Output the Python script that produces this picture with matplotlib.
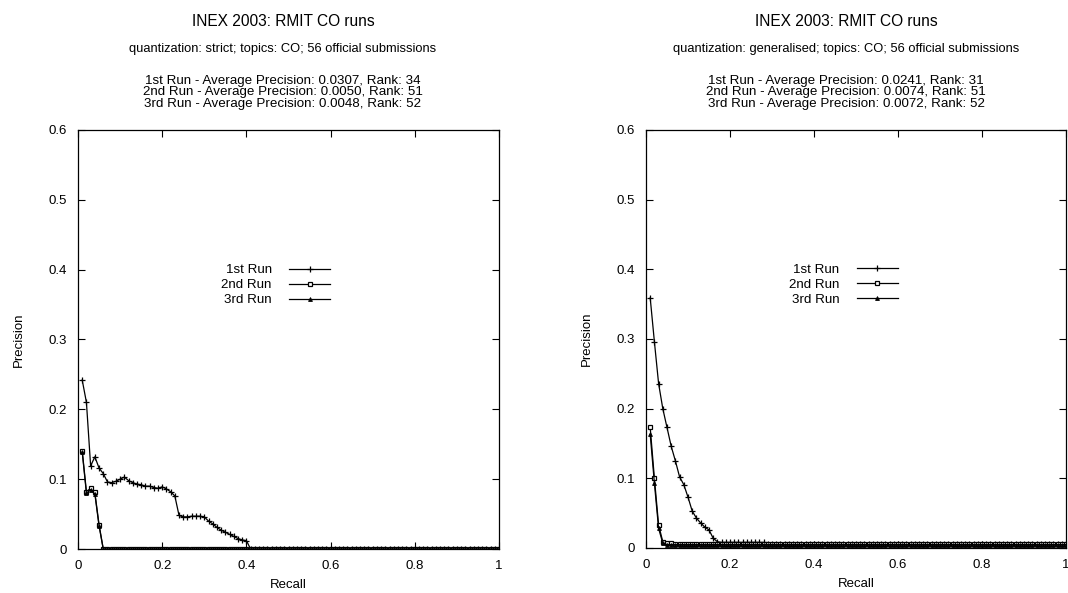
import matplotlib
matplotlib.use("Agg")
import matplotlib.pyplot as plt
from matplotlib.ticker import FormatStrFormatter, MultipleLocator

plt.rcParams['font.family'] = ['Liberation Sans', 'DejaVu Sans']

recall = [
    0.01, 0.02, 0.03, 0.04, 0.05, 0.06, 0.07, 0.08, 0.09, 0.10,
    0.11, 0.12, 0.13, 0.14, 0.15, 0.16, 0.17, 0.18, 0.19, 0.20,
    0.21, 0.22, 0.23, 0.24, 0.25, 0.26, 0.27, 0.28, 0.29, 0.30,
    0.31, 0.32, 0.33, 0.34, 0.35, 0.36, 0.37, 0.38, 0.39, 0.40,
    0.41, 0.42, 0.43, 0.44, 0.45, 0.46, 0.47, 0.48, 0.49, 0.50,
    0.51, 0.52, 0.53, 0.54, 0.55, 0.56, 0.57, 0.58, 0.59, 0.60,
    0.61, 0.62, 0.63, 0.64, 0.65, 0.66, 0.67, 0.68, 0.69, 0.70,
    0.71, 0.72, 0.73, 0.74, 0.75, 0.76, 0.77, 0.78, 0.79, 0.80,
    0.81, 0.82, 0.83, 0.84, 0.85, 0.86, 0.87, 0.88, 0.89, 0.90,
    0.91, 0.92, 0.93, 0.94, 0.95, 0.96, 0.97, 0.98, 0.99, 1.00,
]

# strict quantization
strict_run1 = [
    0.242, 0.210, 0.119, 0.132, 0.116, 0.108, 0.096, 0.095, 0.097, 0.100,
    0.103, 0.098, 0.095, 0.093, 0.092, 0.090, 0.090, 0.088, 0.087, 0.089,
    0.086, 0.082, 0.076, 0.048, 0.046, 0.046, 0.047, 0.047, 0.047, 0.046,
    0.040, 0.036, 0.031, 0.027, 0.024, 0.021, 0.018, 0.015, 0.013, 0.012,
    0, 0, 0, 0, 0, 0, 0, 0, 0, 0,
    0, 0, 0, 0, 0, 0, 0, 0, 0, 0,
    0, 0, 0, 0, 0, 0, 0, 0, 0, 0,
    0, 0, 0, 0, 0, 0, 0, 0, 0, 0,
    0, 0, 0, 0, 0, 0, 0, 0, 0, 0,
    0, 0, 0, 0, 0, 0, 0, 0, 0, 0,
]
strict_run2 = [
    0.141, 0.082, 0.087, 0.081, 0.035, 0, 0, 0, 0, 0,
    0, 0, 0, 0, 0, 0, 0, 0, 0, 0,
    0, 0, 0, 0, 0, 0, 0, 0, 0, 0,
    0, 0, 0, 0, 0, 0, 0, 0, 0, 0,
    0, 0, 0, 0, 0, 0, 0, 0, 0, 0,
    0, 0, 0, 0, 0, 0, 0, 0, 0, 0,
    0, 0, 0, 0, 0, 0, 0, 0, 0, 0,
    0, 0, 0, 0, 0, 0, 0, 0, 0, 0,
    0, 0, 0, 0, 0, 0, 0, 0, 0, 0,
    0, 0, 0, 0, 0, 0, 0, 0, 0, 0,
]
strict_run3 = [
    0.139, 0.080, 0.085, 0.079, 0.033, 0, 0, 0, 0, 0,
    0, 0, 0, 0, 0, 0, 0, 0, 0, 0,
    0, 0, 0, 0, 0, 0, 0, 0, 0, 0,
    0, 0, 0, 0, 0, 0, 0, 0, 0, 0,
    0, 0, 0, 0, 0, 0, 0, 0, 0, 0,
    0, 0, 0, 0, 0, 0, 0, 0, 0, 0,
    0, 0, 0, 0, 0, 0, 0, 0, 0, 0,
    0, 0, 0, 0, 0, 0, 0, 0, 0, 0,
    0, 0, 0, 0, 0, 0, 0, 0, 0, 0,
    0, 0, 0, 0, 0, 0, 0, 0, 0, 0,
]

# generalised quantization
gen_run1 = [
    0.359, 0.296, 0.236, 0.200, 0.173, 0.146, 0.125, 0.102, 0.091, 0.073,
    0.053, 0.043, 0.036, 0.030, 0.026, 0.014, 0.009, 0.008, 0.008, 0.008,
    0.008, 0.008, 0.008, 0.008, 0.008, 0.008, 0.008, 0.008, 0.006, 0.006,
    0.006, 0.006, 0.006, 0.006, 0.006, 0.006, 0.006, 0.006, 0.006, 0.006,
    0.006, 0.006, 0.006, 0.006, 0.006, 0.006, 0.006, 0.006, 0.006, 0.006,
    0.006, 0.006, 0.006, 0.006, 0.006, 0.006, 0.006, 0.006, 0.006, 0.006,
    0.006, 0.006, 0.006, 0.006, 0.006, 0.006, 0.006, 0.006, 0.006, 0.006,
    0.006, 0.006, 0.006, 0.006, 0.006, 0.006, 0.006, 0.006, 0.006, 0.006,
    0.006, 0.006, 0.006, 0.006, 0.006, 0.006, 0.006, 0.006, 0.006, 0.006,
    0.006, 0.006, 0.006, 0.006, 0.006, 0.006, 0.006, 0.006, 0.006, 0.006,
]
gen_run2 = [
    0.173, 0.100, 0.033, 0.009, 0.007, 0.007, 0.006, 0.006, 0.006, 0.006,
    0.006, 0.006, 0.006, 0.006, 0.006, 0.006, 0.006, 0.006, 0.006, 0.006,
    0.006, 0.006, 0.006, 0.006, 0.006, 0.006, 0.006, 0.006, 0.006, 0.006,
    0.006, 0.006, 0.006, 0.006, 0.006, 0.006, 0.006, 0.006, 0.006, 0.006,
    0.006, 0.006, 0.006, 0.006, 0.006, 0.006, 0.006, 0.006, 0.006, 0.006,
    0.006, 0.006, 0.006, 0.006, 0.006, 0.006, 0.006, 0.006, 0.006, 0.006,
    0.006, 0.006, 0.006, 0.006, 0.006, 0.006, 0.006, 0.006, 0.006, 0.006,
    0.006, 0.006, 0.006, 0.006, 0.006, 0.006, 0.006, 0.006, 0.006, 0.006,
    0.006, 0.006, 0.006, 0.006, 0.006, 0.006, 0.006, 0.006, 0.006, 0.006,
    0.006, 0.006, 0.006, 0.006, 0.006, 0.006, 0.006, 0.006, 0.006, 0.006,
]
gen_run3 = [
    0.163, 0.093, 0.028, 0.007, 0.005, 0.005, 0.005, 0.005, 0.005, 0.005,
    0.005, 0.005, 0.005, 0.005, 0.005, 0.005, 0.005, 0.005, 0.005, 0.005,
    0.005, 0.005, 0.005, 0.005, 0.005, 0.005, 0.005, 0.005, 0.005, 0.005,
    0.005, 0.005, 0.005, 0.005, 0.005, 0.005, 0.005, 0.005, 0.005, 0.005,
    0.005, 0.005, 0.005, 0.005, 0.005, 0.005, 0.005, 0.005, 0.005, 0.005,
    0.005, 0.005, 0.005, 0.005, 0.005, 0.005, 0.005, 0.005, 0.005, 0.005,
    0.005, 0.005, 0.005, 0.005, 0.005, 0.005, 0.005, 0.005, 0.005, 0.005,
    0.005, 0.005, 0.005, 0.005, 0.005, 0.005, 0.005, 0.005, 0.005, 0.005,
    0.005, 0.005, 0.005, 0.005, 0.005, 0.005, 0.005, 0.005, 0.005, 0.005,
    0.005, 0.005, 0.005, 0.005, 0.005, 0.005, 0.005, 0.005, 0.005, 0.005,
]

run_names = ["1st Run", "2nd Run", "3rd Run"]
titles = ["INEX 2003: RMIT CO runs", "INEX 2003: RMIT CO runs"]
subtitles = ["quantization: strict; topics: CO; 56 official submissions",
             "quantization: generalised; topics: CO; 56 official submissions"]
summaries = [
    ["1st Run - Average Precision: 0.0307, Rank: 34",
     "2nd Run - Average Precision: 0.0050, Rank: 51",
     "3rd Run - Average Precision: 0.0048, Rank: 52"],
    ["1st Run - Average Precision: 0.0241, Rank: 31",
     "2nd Run - Average Precision: 0.0074, Rank: 51",
     "3rd Run - Average Precision: 0.0072, Rank: 52"],
]
series = [[strict_run1, strict_run2, strict_run3],
          [gen_run1, gen_run2, gen_run3]]

W, H = 1068, 593
fig = plt.figure(figsize=(W / 100, H / 100), dpi=100)

axes_px = [(78, 130, 499, 549), (646, 130, 1066, 548)]
title_cx = [283, 846]
markers = [dict(marker='+', ms=5.0, mew=0.9),
           dict(marker='s', ms=3.4, mfc='white', mew=0.9),
           dict(marker='^', ms=2.8, mfc='black', mew=0.6)]

for i, (x0, y0, x1, y1) in enumerate(axes_px):
    ax = fig.add_axes([x0 / W, 1 - y1 / H, (x1 - x0) / W, (y1 - y0) / H])
    for name, ys, mk in zip(run_names, series[i], markers):
        ax.plot(recall, ys, color='black', lw=0.9, label=name, **mk)
    ax.set_xlim(0, 1)
    ax.set_ylim(0, 0.6)
    ax.xaxis.set_major_locator(MultipleLocator(0.2))
    ax.yaxis.set_major_locator(MultipleLocator(0.1))
    ax.xaxis.set_major_formatter(FormatStrFormatter('%g'))
    ax.yaxis.set_major_formatter(FormatStrFormatter('%g'))
    ax.tick_params(direction='in', length=5, width=0.8, labelsize=9.5,
                   top=True, right=True, color='black')
    ax.tick_params(axis='x', pad=8)
    ax.tick_params(axis='y', pad=8)
    for s in ax.spines.values():
        s.set_linewidth(0.9)
    ax.set_xlabel("Recall", fontsize=9.5, labelpad=5)
    ax.set_ylabel("Precision", fontsize=9.5, labelpad=17)
    cx = title_cx[i] / W
    fig.text(cx, 1 - 22 / H, titles[i], ha='center', va='center', fontsize=11.2)
    fig.text(cx, 1 - 49 / H, subtitles[i], ha='center', va='center', fontsize=9.3)
    for k, line in enumerate(summaries[i]):
        fig.text(cx, 1 - (81 + 11.5 * k) / H, line, ha='center', va='center',
                 fontsize=9.6)
    ax.legend(loc='center', bbox_to_anchor=(0.47, 0.63), frameon=False,
              markerfirst=False, fontsize=9.6, handlelength=3.1,
              handletextpad=1.3, labelspacing=0.2, borderpad=0)

fig.savefig("out.png", dpi=100)
